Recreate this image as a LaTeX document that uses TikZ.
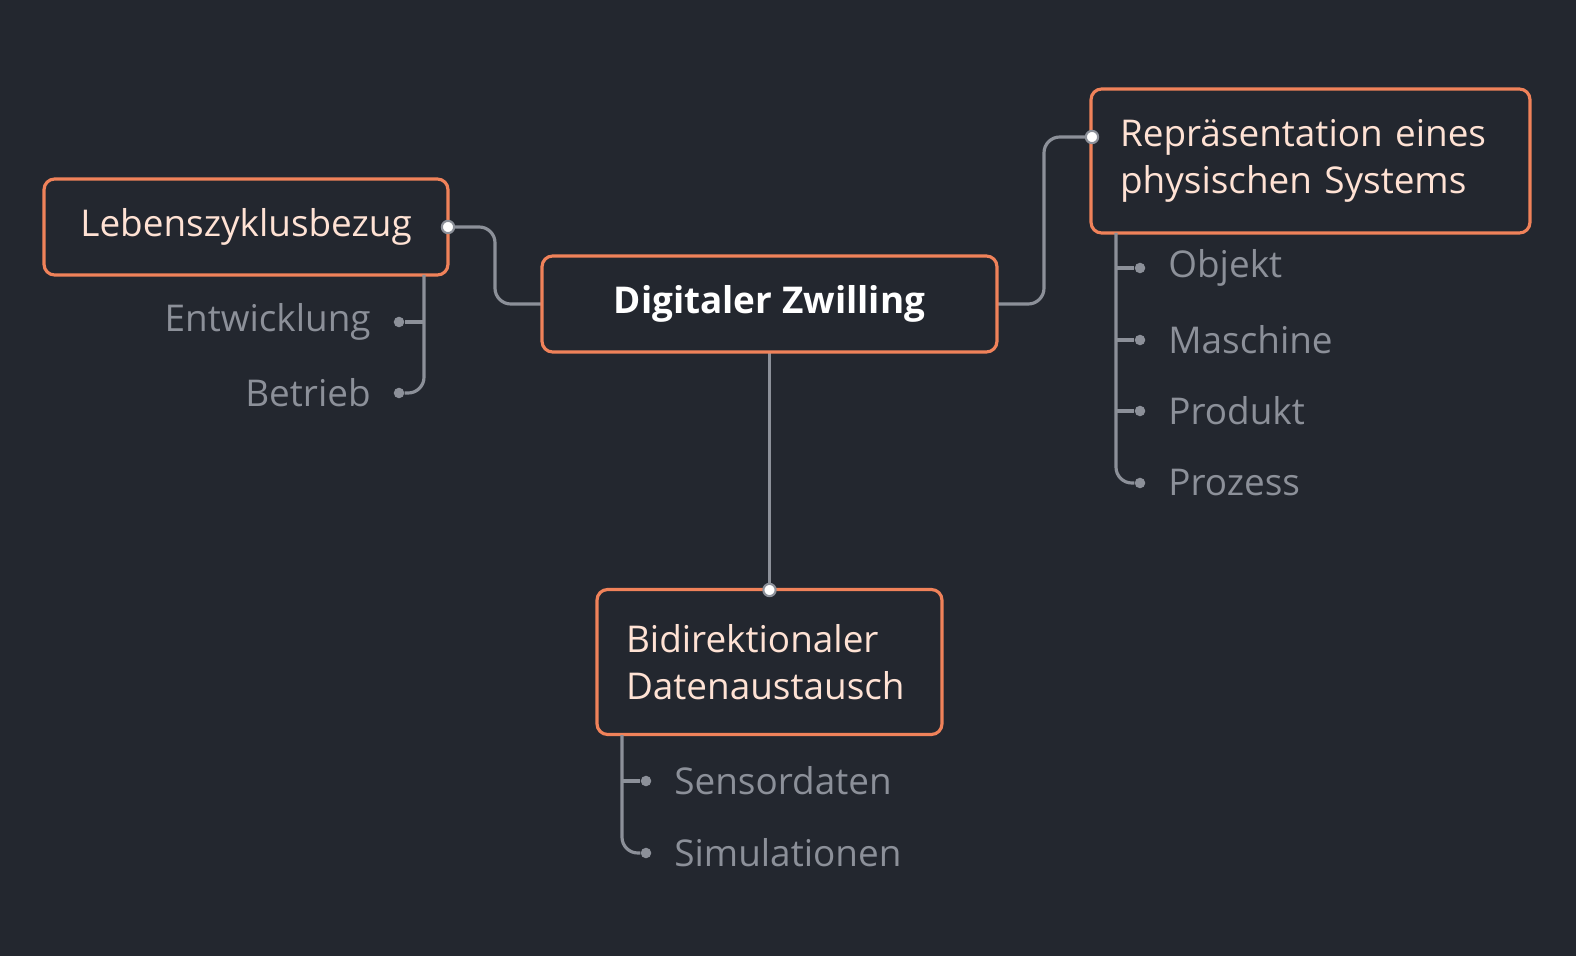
\documentclass[tikz,border=0pt]{standalone}
\usepackage{fontspec}
\setmainfont{Open Sans}
\definecolor{bgdark}{HTML}{23272F}
\definecolor{boxedge}{HTML}{F0825A}
\definecolor{boxtext}{HTML}{FFE2D4}
\definecolor{leafgray}{HTML}{8C9099}
\tikzset{
  topic/.style={draw=boxedge, line width=1.8pt, rounded corners=6pt, fill=bgdark, text=boxtext, font=\fontsize{21}{27}\selectfont, inner sep=0pt},
  leaf/.style={text=leafgray, font=\fontsize{21}{26}\selectfont, inner sep=0pt},
  branch/.style={draw=leafgray, line width=1.8pt, rounded corners=9pt},
  joint/.style={circle, draw=leafgray, fill=white, line width=1.2pt, minimum size=7pt, inner sep=0pt},
  tip/.style={circle, fill=leafgray, minimum size=6pt, inner sep=0pt}
}
\begin{document}
\begin{tikzpicture}[x=0.02cm, y=-0.02cm]
	\fill[bgdark] (0,0) rectangle (1576,956);
	\useasboundingbox (0,0) rectangle (1576,956);

	% connectors first
	\coordinate (lebenJ) at (448,227);
	\coordinate (repJ) at (1092,137);
	\coordinate (bidiJ) at (769.5,590);
	\draw[branch] (542,304) -- (495,304) |- (lebenJ);
	\draw[branch] (997,304) -- (1044,304) |- (repJ);
	\draw[branch] (769.5,352) -- (bidiJ);

	% topics
	\node[topic, font=\fontsize{21}{27}\selectfont\bfseries, text=white, minimum width=9.1cm, minimum height=1.92cm] (root) at (769.5,304) {Digitaler Zwilling};
	\node[topic, minimum width=8.08cm, minimum height=1.92cm] (leben) at (246,227) {Lebenszyklusbezug};
	\node[topic, minimum width=8.78cm, minimum height=2.88cm, text width=7.62cm, align=left] (rep) at (1310.5,161) {Repräsentation eines\\physischen Systems};
	\node[topic, minimum width=6.9cm, minimum height=2.9cm, text width=5.74cm, align=left] (bidi) at (769.5,662) {Bidirektionaler\\Datenaustausch};

	\node[joint] at (lebenJ) {};
	\node[joint] at (repJ) {};
	\node[joint] at (bidiJ) {};

	% leaves of Lebenszyklusbezug
	\node[tip] (ent) at (399,322) {};
	\node[tip] (bet) at (399,393) {};
	\node[leaf, anchor=east] (entT) at (371,322) {Entwicklung};
	\node[leaf, anchor=east] (betT) at (371,393) {Betrieb};
	\draw[branch] (424,275) |- (bet);
	\draw[branch, rounded corners=0pt] (424,322) -- (ent);

	% leaves of Repräsentation
	\foreach \y/\name/\txt in {268/obj/Objekt, 340/mas/Maschine, 411/pro/Produkt, 483/prz/Prozess} {
		\node[tip] (\name) at (1140,\y) {};
		\node[leaf, anchor=west] (\name T) at (1168,\y) {\txt};
	}
	\draw[branch] (1116,233) |- (prz);
	\foreach \name in {obj, mas, pro}
		\draw[branch, rounded corners=0pt] (1116,0 |- \name) -- (\name);

	% leaves of Bidirektionaler Datenaustausch
	\node[tip] (sen) at (646,781) {};
	\node[tip] (sim) at (646,853) {};
	\node[leaf, anchor=west] (senT) at (674,781) {Sensordaten};
	\node[leaf, anchor=west] (simT) at (674,853) {Simulationen};
	\draw[branch] (622,735) |- (sim);
	\draw[branch, rounded corners=0pt] (622,781) -- (sen);
\end{tikzpicture}
\end{document}
